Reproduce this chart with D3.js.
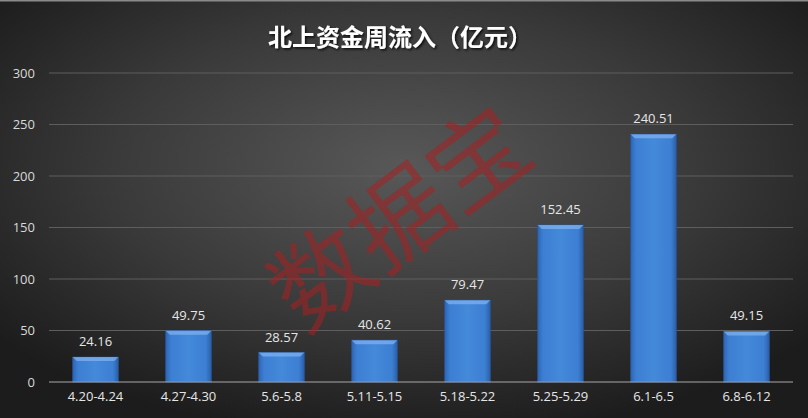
<!DOCTYPE html>
<html><head><meta charset="utf-8">
<script src="https://cdn.jsdelivr.net/npm/d3@7"></script>
<style>html,body{margin:0;padding:0;background:#222;}svg{display:block;}</style>
</head><body>
<script>
const categories = ["4.20-4.24","4.27-4.30","5.6-5.8","5.11-5.15","5.18-5.22","5.25-5.29","6.1-6.5","6.8-6.12"];
const values = [24.16, 49.75, 28.57, 40.62, 79.47, 152.45, 240.51, 49.15];
const yTicks = [0, 50, 100, 150, 200, 250, 300];
const title = "北上资金周流入（亿元）";
const watermark = "数据宝";

const W = 808, H = 418;
const svg = d3.select("body").append("svg").attr("width", W).attr("height", H);
const defs = svg.append("defs");
const rg = defs.append("radialGradient").attr("id","bg").attr("cx","50%").attr("cy","40%").attr("r","65%");
rg.append("stop").attr("offset","0%").attr("stop-color","#585858");
rg.append("stop").attr("offset","55%").attr("stop-color","#3a3a3a");
rg.append("stop").attr("offset","100%").attr("stop-color","#1c1c1c");
const bg = defs.append("linearGradient").attr("id","bar").attr("x1","0").attr("x2","1").attr("y1","0").attr("y2","0");
bg.append("stop").attr("offset","0%").attr("stop-color","#2f66b4");
bg.append("stop").attr("offset","12%").attr("stop-color","#3d7fd3");
bg.append("stop").attr("offset","50%").attr("stop-color","#4489da");
bg.append("stop").attr("offset","88%").attr("stop-color","#3d7fd3");
bg.append("stop").attr("offset","100%").attr("stop-color","#2c5fa8");
const sh = defs.append("filter").attr("id","ts").attr("x","-10%").attr("y","-30%").attr("width","120%").attr("height","160%");
sh.append("feDropShadow").attr("dx",1.5).attr("dy",1.5).attr("stdDeviation",1).attr("flood-color","#000").attr("flood-opacity",0.8);

svg.append("rect").attr("width",W).attr("height",H).attr("fill","url(#bg)");
svg.append("rect").attr("width",W).attr("height",1.5).attr("fill","#8a8a8a");

const x = d3.scaleBand().domain(categories).range([49, 793]).paddingInner(0.51).paddingOuter(0.255);
const y = d3.scaleLinear().domain([0, 300]).range([382, 73]);

// gridlines
svg.append("g").selectAll("line").data(yTicks.filter(d=>d>0)).join("line")
  .attr("x1",49).attr("x2",793).attr("y1",d=>y(d)).attr("y2",d=>y(d))
  .attr("stroke","#5e5e5e").attr("stroke-width",1);

// y axis labels
const yAxis = d3.axisLeft(y).tickValues(yTicks).tickSize(0).tickPadding(14);
const gy = svg.append("g").attr("transform","translate(49,0)").call(yAxis);
gy.select(".domain").remove();
gy.selectAll("text").attr("fill","#d9d9d9").attr("font-size",13).attr("font-family","'Open Sans','Noto Sans',sans-serif");

// watermark
svg.append("text").attr("x",395).attr("y",212).attr("text-anchor","middle").attr("dominant-baseline","central")
  .attr("transform","rotate(-37,395,212)")
  .attr("font-family","'Noto Sans CJK SC'").attr("font-weight",400).attr("font-size",98)
  .attr("fill","#a82020").attr("fill-opacity",0.55).text(watermark);

// bars
const bars = svg.append("g").selectAll("g").data(values).join("g");
bars.append("rect")
  .attr("x",(d,i)=>x(categories[i])).attr("y",d=>y(d))
  .attr("width",x.bandwidth()).attr("height",d=>y(0)-y(d))
  .attr("fill","url(#bar)").attr("stroke","#25569c").attr("stroke-width",0.8);
bars.append("path").attr("d",(d,i)=>{
  const x0 = x(categories[i]), x1 = x0 + x.bandwidth(), t = y(d), b = 4;
  return `M${x0},${t}L${x1},${t}L${x1-b},${t+b}L${x0+b},${t+b}Z`;
}).attr("fill","#7fb2ef").attr("fill-opacity",0.75);
bars.append("text")
  .attr("x",(d,i)=>x(categories[i])+x.bandwidth()/2).attr("y",d=>y(d)-11)
  .attr("text-anchor","middle").attr("fill","#e6e6e6").attr("font-size",13)
  .attr("font-family","'Open Sans','Noto Sans',sans-serif").text(d=>d.toFixed(2));

// x axis
svg.append("line").attr("x1",49).attr("x2",793).attr("y1",y(0)).attr("y2",y(0)).attr("stroke","#a8a8a8").attr("stroke-width",1.2);
const xAxis = d3.axisBottom(x).tickSize(0).tickPadding(10);
const gx = svg.append("g").attr("transform",`translate(0,${y(0)})`).call(xAxis);
gx.select(".domain").remove();
gx.selectAll("text").attr("fill","#e6e6e6").attr("font-size",13).attr("font-family","'Open Sans','Noto Sans',sans-serif");

// title
svg.append("text").attr("x",400).attr("y",46).attr("text-anchor","middle")
  .attr("font-family","'Noto Sans CJK SC'").attr("font-weight",700).attr("font-size",24)
  .attr("fill","#ffffff").attr("filter","url(#ts)").text(title);
</script>
</body></html>
